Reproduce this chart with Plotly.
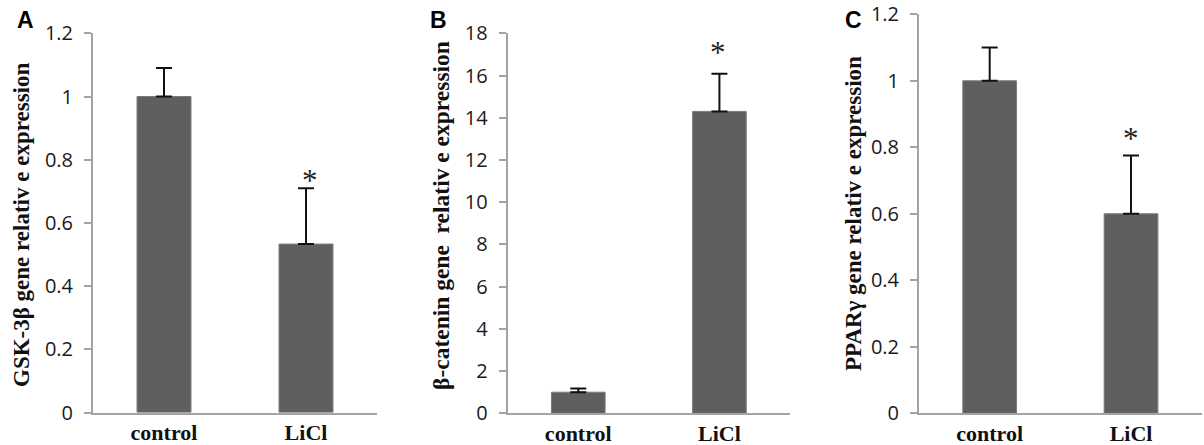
import plotly.graph_objects as go

categories = ["control", "LiCl"]

gsk_values = [1.0, 0.533]
gsk_errors = [0.09, 0.177]

bcat_values = [1.0, 14.3]
bcat_errors = [0.17, 1.78]

ppar_values = [1.0, 0.6]
ppar_errors = [0.10, 0.175]

panel_letters = ["A", "B", "C"]
y_titles = ["GSK-3β gene relativ e expression",
            "β-catenin gene  relativ e expression",
            "PPARγ gene relativ e expression"]
y_ranges = [[0, 1.2], [0, 18], [0, 1.2]]
y_dticks = [0.2, 2, 0.2]

W, H = 1204, 445
# pixel geometry of each panel: x0, x1, y_zero, y_top
geom = [(93, 377, 412.5, 33.3),
        (507.7, 790, 413.3, 33.3),
        (919, 1201.7, 413.3, 14.3)]
title_x = [21, 441, 853]
title_y = [225, 216, 214]
title_size = [23, 23.5, 23]
letter_pos = [(25, 20), (439, 20), (853, 20)]
star_shift = [(4, 8), (-1, 21), (0, 17)]

BAR = "#5f5f5f"
AX = "#a3a3a3"

fig = go.Figure()
series = [(gsk_values, gsk_errors), (bcat_values, bcat_errors), (ppar_values, ppar_errors)]
annotations = []
for i, (vals, errs) in enumerate(series):
    xa = "x" if i == 0 else f"x{i+1}"
    ya = "y" if i == 0 else f"y{i+1}"
    fig.add_trace(go.Bar(
        x=categories, y=vals, width=0.38,
        marker=dict(color=BAR, line=dict(color="#7a7a7a", width=1)),
        error_y=dict(type="data", array=errs, arrayminus=[0, 0], symmetric=False,
                     color="#111111", thickness=2, width=8),
        xaxis=xa, yaxis=ya, showlegend=False, hoverinfo="skip"))
    x0, x1, yz, yt = geom[i]
    xkey = "xaxis" if i == 0 else f"xaxis{i+1}"
    ykey = "yaxis" if i == 0 else f"yaxis{i+1}"
    fig.layout[xkey] = dict(
        domain=[x0 / W, x1 / W], anchor=ya, showline=True, linecolor=AX, linewidth=2,
        ticks="", showgrid=False, zeroline=False, range=[-0.5, 1.5], automargin=False,
        tickfont=dict(family="Liberation Serif", size=22, color="#111111"),
        tickprefix="<b>", ticksuffix="</b>", ticklabelstandoff=-1)
    fig.layout[ykey] = dict(
        domain=[1 - yz / H, 1 - yt / H], anchor=xa, range=y_ranges[i], dtick=y_dticks[i],
        showline=True, linecolor=AX, linewidth=2, ticks="outside", ticklen=7,
        tickcolor=AX, tickwidth=2, showgrid=False, zeroline=False, automargin=False,
        tickfont=dict(family="Open Sans", size=20, color="#1a1a1a"),
        ticklabelstandoff=7)
    # significance asterisk above the LiCl error bar
    sx, sy = star_shift[i]
    annotations.append(dict(
        x="LiCl", y=vals[1] + errs[1], xref=xa, yref=ya, text="*", showarrow=False,
        yanchor="middle", yshift=sy, xshift=sx,
        font=dict(family="Liberation Serif", size=31, color="#222222")))
    annotations.append(dict(
        x=title_x[i] / W, y=1 - title_y[i] / H, xref="paper", yref="paper",
        xanchor="center", yanchor="middle",
        text="<b>" + y_titles[i] + "</b>", textangle=-90, showarrow=False,
        font=dict(family="Liberation Serif", size=title_size[i], color="#111111")))
    lx, ly = letter_pos[i]
    annotations.append(dict(
        x=lx / W, y=1 - ly / H, xref="paper", yref="paper",
        xanchor="center", yanchor="middle",
        text="<b>" + panel_letters[i] + "</b>", showarrow=False,
        font=dict(family="Liberation Sans", size=23, color="#000000")))

fig.update_layout(
    width=W, height=H, margin=dict(l=0, r=0, t=0, b=0),
    paper_bgcolor="white", plot_bgcolor="white",
    annotations=annotations, bargap=0.62)

fig.write_html("out.html", config={"displayModeBar": False},
               post_script="document.body.style.margin='0';document.body.style.overflow='hidden';")
